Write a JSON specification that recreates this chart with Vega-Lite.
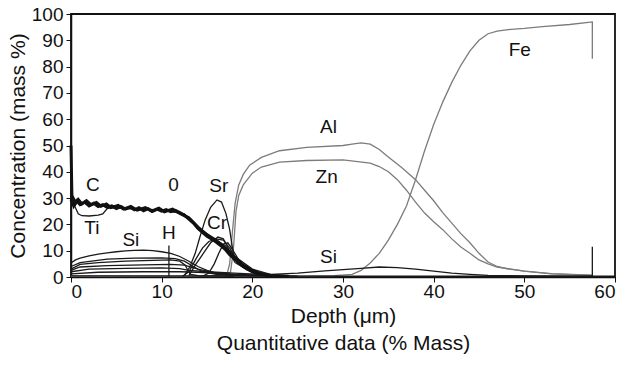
{
  "$schema": "https://vega.github.io/schema/vega-lite/v6.json",
  "width": 544,
  "height": 263,
  "autosize": {"type": "none"},
  "padding": {"left": 71, "top": 14, "right": 6, "bottom": 89},
  "background": "white",
  "config": {
    "font": "Liberation Sans",
    "view": {"stroke": "#111", "strokeWidth": 1.8},
    "axis": {"grid": false, "domainColor": "#111", "tickColor": "#111", "labelColor": "#111", "titleColor": "#111", "labelFontSize": 19, "titleFontSize": 21, "titleFontWeight": "normal", "tickSize": 5, "domainWidth": 1.5}
  },
  "datasets": {
    "lines": [
      {"s": "O", "x": 0, "y": 29.5}, {"s": "O", "x": 0.3, "y": 27}, {"s": "O", "x": 0.6, "y": 29}, {"s": "O", "x": 1, "y": 27.5}, {"s": "O", "x": 1.5, "y": 28.5}, {"s": "O", "x": 2, "y": 27}, {"s": "O", "x": 2.5, "y": 28}, {"s": "O", "x": 3, "y": 26.8}, {"s": "O", "x": 3.5, "y": 27.5}, {"s": "O", "x": 4, "y": 26.5}, {"s": "O", "x": 4.5, "y": 27}, {"s": "O", "x": 5, "y": 26}, {"s": "O", "x": 5.5, "y": 26.8}, {"s": "O", "x": 6, "y": 25.8}, {"s": "O", "x": 6.5, "y": 26.5}, {"s": "O", "x": 7, "y": 25.5}, {"s": "O", "x": 7.5, "y": 26.3}, {"s": "O", "x": 8, "y": 25.2}, {"s": "O", "x": 8.5, "y": 26}, {"s": "O", "x": 9, "y": 25}, {"s": "O", "x": 9.5, "y": 25.8}, {"s": "O", "x": 10, "y": 25}, {"s": "O", "x": 10.5, "y": 25.6}, {"s": "O", "x": 11, "y": 24.8}, {"s": "O", "x": 11.5, "y": 25.3}, {"s": "O", "x": 12, "y": 24.5}, {"s": "O", "x": 12.5, "y": 23.5}, {"s": "O", "x": 13, "y": 22}, {"s": "O", "x": 13.5, "y": 20.5}, {"s": "O", "x": 14, "y": 18.5}, {"s": "O", "x": 14.5, "y": 17}, {"s": "O", "x": 15, "y": 15.5}, {"s": "O", "x": 15.5, "y": 14.5}, {"s": "O", "x": 16, "y": 13.3}, {"s": "O", "x": 16.5, "y": 12}, {"s": "O", "x": 17, "y": 10.5}, {"s": "O", "x": 17.5, "y": 8.5}, {"s": "O", "x": 18, "y": 7}, {"s": "O", "x": 18.5, "y": 5.5}, {"s": "O", "x": 19, "y": 4}, {"s": "O", "x": 19.5, "y": 3}, {"s": "O", "x": 20, "y": 2}, {"s": "O", "x": 21, "y": 1}, {"s": "O", "x": 22, "y": 0.5}, {"s": "O", "x": 24, "y": 0.3},
      {"s": "C", "x": 0, "y": 50}, {"s": "C", "x": 0.1, "y": 31}, {"s": "C", "x": 0.5, "y": 28}, {"s": "C", "x": 0.8, "y": 29.5}, {"s": "C", "x": 1.2, "y": 27.8}, {"s": "C", "x": 1.7, "y": 29}, {"s": "C", "x": 2.2, "y": 27.5}, {"s": "C", "x": 2.8, "y": 28.3}, {"s": "C", "x": 3.3, "y": 26.9}, {"s": "C", "x": 3.9, "y": 27.8}, {"s": "C", "x": 4.4, "y": 26.4}, {"s": "C", "x": 5.2, "y": 27.2}, {"s": "C", "x": 5.8, "y": 25.8}, {"s": "C", "x": 6.6, "y": 26.8}, {"s": "C", "x": 7.3, "y": 25.4}, {"s": "C", "x": 8.2, "y": 26.4}, {"s": "C", "x": 8.9, "y": 25}, {"s": "C", "x": 9.7, "y": 26.2}, {"s": "C", "x": 10.3, "y": 24.8}, {"s": "C", "x": 11.2, "y": 25.8}, {"s": "C", "x": 12, "y": 24.2}, {"s": "C", "x": 13, "y": 22.5}, {"s": "C", "x": 14, "y": 19}, {"s": "C", "x": 15, "y": 16}, {"s": "C", "x": 16, "y": 14}, {"s": "C", "x": 17, "y": 11}, {"s": "C", "x": 18, "y": 7.5}, {"s": "C", "x": 19, "y": 4.5}, {"s": "C", "x": 20, "y": 2.5}, {"s": "C", "x": 21, "y": 1.2}, {"s": "C", "x": 22, "y": 0.5},
      {"s": "Ti", "x": 0, "y": 29}, {"s": "Ti", "x": 0.4, "y": 27}, {"s": "Ti", "x": 0.8, "y": 24}, {"s": "Ti", "x": 1.2, "y": 23.3}, {"s": "Ti", "x": 2, "y": 23.2}, {"s": "Ti", "x": 3, "y": 23.5}, {"s": "Ti", "x": 3.5, "y": 24}, {"s": "Ti", "x": 4, "y": 26}, {"s": "Ti", "x": 4.5, "y": 26.5}, {"s": "Ti", "x": 6, "y": 26}, {"s": "Ti", "x": 10, "y": 25.5}, {"s": "Ti", "x": 12.5, "y": 24}, {"s": "Ti", "x": 14, "y": 19}, {"s": "Ti", "x": 16, "y": 14}, {"s": "Ti", "x": 17, "y": 12}, {"s": "Ti", "x": 18, "y": 8}, {"s": "Ti", "x": 20, "y": 3}, {"s": "Ti", "x": 22, "y": 1}, {"s": "Ti", "x": 24, "y": 0.4},
      {"s": "SiL", "x": 0, "y": 5.3}, {"s": "SiL", "x": 0.5, "y": 6.5}, {"s": "SiL", "x": 1, "y": 7.2}, {"s": "SiL", "x": 2, "y": 8}, {"s": "SiL", "x": 3, "y": 8.7}, {"s": "SiL", "x": 4, "y": 9.2}, {"s": "SiL", "x": 5, "y": 9.6}, {"s": "SiL", "x": 6, "y": 9.9}, {"s": "SiL", "x": 7, "y": 10.1}, {"s": "SiL", "x": 8, "y": 10.2}, {"s": "SiL", "x": 9, "y": 10}, {"s": "SiL", "x": 10, "y": 9.6}, {"s": "SiL", "x": 11, "y": 9}, {"s": "SiL", "x": 12, "y": 7.8}, {"s": "SiL", "x": 13, "y": 6}, {"s": "SiL", "x": 14, "y": 4}, {"s": "SiL", "x": 15, "y": 2.5}, {"s": "SiL", "x": 16, "y": 1.5}, {"s": "SiL", "x": 18, "y": 0.8}, {"s": "SiL", "x": 20, "y": 0.5}, {"s": "SiL", "x": 22, "y": 0.3},
      {"s": "H", "x": 0, "y": 3}, {"s": "H", "x": 1, "y": 4.8}, {"s": "H", "x": 3, "y": 5.5}, {"s": "H", "x": 6, "y": 6}, {"s": "H", "x": 9, "y": 6.3}, {"s": "H", "x": 11, "y": 6.5}, {"s": "H", "x": 12, "y": 6}, {"s": "H", "x": 12.6, "y": 4.5}, {"s": "H", "x": 12.9, "y": 2.5}, {"s": "H", "x": 13.2, "y": 1}, {"s": "H", "x": 14, "y": 0.5}, {"s": "H", "x": 18, "y": 0.3},
      {"s": "Hs", "x": 10.8, "y": 12}, {"s": "Hs", "x": 10.8, "y": 0.2},
      {"s": "B2", "x": 0, "y": 2.5}, {"s": "B2", "x": 1, "y": 3.8}, {"s": "B2", "x": 4, "y": 4.3}, {"s": "B2", "x": 8, "y": 4.6}, {"s": "B2", "x": 11, "y": 4.8}, {"s": "B2", "x": 12.5, "y": 4.5}, {"s": "B2", "x": 14, "y": 3}, {"s": "B2", "x": 16, "y": 1.5}, {"s": "B2", "x": 20, "y": 0.5},
      {"s": "B3", "x": 0, "y": 2}, {"s": "B3", "x": 2, "y": 3}, {"s": "B3", "x": 6, "y": 3.3}, {"s": "B3", "x": 10, "y": 3.5}, {"s": "B3", "x": 12, "y": 3.2}, {"s": "B3", "x": 13, "y": 2.5}, {"s": "B3", "x": 15, "y": 2}, {"s": "B3", "x": 18, "y": 1.5}, {"s": "B3", "x": 22, "y": 0.8}, {"s": "B3", "x": 25, "y": 0.3},
      {"s": "B4", "x": 0, "y": 1.2}, {"s": "B4", "x": 3, "y": 1.8}, {"s": "B4", "x": 8, "y": 2}, {"s": "B4", "x": 12, "y": 2}, {"s": "B4", "x": 14, "y": 1.8}, {"s": "B4", "x": 18, "y": 1}, {"s": "B4", "x": 22, "y": 0.5},
      {"s": "B5", "x": 0, "y": 4}, {"s": "B5", "x": 1, "y": 5.5}, {"s": "B5", "x": 4, "y": 6.8}, {"s": "B5", "x": 7, "y": 7.2}, {"s": "B5", "x": 10, "y": 7.3}, {"s": "B5", "x": 11.5, "y": 7}, {"s": "B5", "x": 12.5, "y": 6}, {"s": "B5", "x": 13.5, "y": 4}, {"s": "B5", "x": 14.5, "y": 2}, {"s": "B5", "x": 16, "y": 1}, {"s": "B5", "x": 19, "y": 0.5},
      {"s": "Sr", "x": 12.5, "y": 0.5}, {"s": "Sr", "x": 13.1, "y": 3.8}, {"s": "Sr", "x": 13.7, "y": 9}, {"s": "Sr", "x": 14.2, "y": 15}, {"s": "Sr", "x": 14.8, "y": 21.7}, {"s": "Sr", "x": 15.4, "y": 26.5}, {"s": "Sr", "x": 16.1, "y": 29.3}, {"s": "Sr", "x": 16.6, "y": 28.5}, {"s": "Sr", "x": 17.1, "y": 24}, {"s": "Sr", "x": 17.5, "y": 18}, {"s": "Sr", "x": 17.9, "y": 9}, {"s": "Sr", "x": 18.4, "y": 5}, {"s": "Sr", "x": 19.4, "y": 2.7}, {"s": "Sr", "x": 20.5, "y": 1.3}, {"s": "Sr", "x": 22, "y": 0.7}, {"s": "Sr", "x": 24, "y": 0.3},
      {"s": "Cr", "x": 13, "y": 0.5}, {"s": "Cr", "x": 13.7, "y": 4.5}, {"s": "Cr", "x": 14.3, "y": 7.5}, {"s": "Cr", "x": 14.8, "y": 10}, {"s": "Cr", "x": 15.4, "y": 13}, {"s": "Cr", "x": 16.2, "y": 15.2}, {"s": "Cr", "x": 16.8, "y": 14.5}, {"s": "Cr", "x": 17.2, "y": 12}, {"s": "Cr", "x": 17.6, "y": 8.5}, {"s": "Cr", "x": 18.1, "y": 5.5}, {"s": "Cr", "x": 18.6, "y": 4.5}, {"s": "Cr", "x": 19.5, "y": 3}, {"s": "Cr", "x": 20.3, "y": 2}, {"s": "Cr", "x": 22, "y": 0.6}, {"s": "Cr", "x": 24, "y": 0.3},
      {"s": "X1", "x": 12.3, "y": 0.3}, {"s": "X1", "x": 13, "y": 2}, {"s": "X1", "x": 13.8, "y": 7}, {"s": "X1", "x": 14.5, "y": 11}, {"s": "X1", "x": 15.2, "y": 13.5}, {"s": "X1", "x": 16, "y": 14.5}, {"s": "X1", "x": 16.8, "y": 14}, {"s": "X1", "x": 17.5, "y": 11}, {"s": "X1", "x": 18.2, "y": 7}, {"s": "X1", "x": 19, "y": 4}, {"s": "X1", "x": 20.5, "y": 1.8}, {"s": "X1", "x": 22.5, "y": 0.6},
      {"s": "X2", "x": 14.5, "y": 0.3}, {"s": "X2", "x": 15.2, "y": 1.5}, {"s": "X2", "x": 15.8, "y": 5}, {"s": "X2", "x": 16.3, "y": 9}, {"s": "X2", "x": 16.8, "y": 12.5}, {"s": "X2", "x": 17.3, "y": 13}, {"s": "X2", "x": 17.8, "y": 10.5}, {"s": "X2", "x": 18.5, "y": 6.5}, {"s": "X2", "x": 19.5, "y": 3}, {"s": "X2", "x": 21, "y": 1.2}, {"s": "X2", "x": 23, "y": 0.4},
      {"s": "Base", "x": 0, "y": 0.4}, {"s": "Base", "x": 57.5, "y": 0.3}, {"s": "Base", "x": 57.5, "y": 11.5}, {"s": "Base", "x": 57.5, "y": 0.3}, {"s": "Base", "x": 60, "y": 0.3},
      {"s": "SiR", "x": 17, "y": 0.5}, {"s": "SiR", "x": 20, "y": 0.8}, {"s": "SiR", "x": 22, "y": 1}, {"s": "SiR", "x": 25, "y": 1.5}, {"s": "SiR", "x": 28, "y": 2.3}, {"s": "SiR", "x": 30, "y": 2.8}, {"s": "SiR", "x": 32, "y": 3.3}, {"s": "SiR", "x": 34, "y": 3.8}, {"s": "SiR", "x": 36, "y": 3.6}, {"s": "SiR", "x": 38, "y": 3}, {"s": "SiR", "x": 40, "y": 2.2}, {"s": "SiR", "x": 42, "y": 1.5}, {"s": "SiR", "x": 44, "y": 1}, {"s": "SiR", "x": 46, "y": 0.6}, {"s": "SiR", "x": 50, "y": 0.4}, {"s": "SiR", "x": 57.5, "y": 0.3},
      {"s": "Al", "x": 0, "y": 0.3}, {"s": "Al", "x": 16, "y": 0.3}, {"s": "Al", "x": 17.2, "y": 1}, {"s": "Al", "x": 17.5, "y": 5}, {"s": "Al", "x": 17.8, "y": 17}, {"s": "Al", "x": 18.1, "y": 28}, {"s": "Al", "x": 18.5, "y": 35}, {"s": "Al", "x": 19, "y": 39}, {"s": "Al", "x": 19.7, "y": 42.5}, {"s": "Al", "x": 21, "y": 45.5}, {"s": "Al", "x": 23, "y": 48}, {"s": "Al", "x": 26, "y": 49.3}, {"s": "Al", "x": 30, "y": 50}, {"s": "Al", "x": 31, "y": 50.5}, {"s": "Al", "x": 32, "y": 51}, {"s": "Al", "x": 33, "y": 50.5}, {"s": "Al", "x": 34, "y": 48.5}, {"s": "Al", "x": 35, "y": 45.6}, {"s": "Al", "x": 36.5, "y": 41.5}, {"s": "Al", "x": 38, "y": 37}, {"s": "Al", "x": 39, "y": 33}, {"s": "Al", "x": 40, "y": 29}, {"s": "Al", "x": 41, "y": 24.5}, {"s": "Al", "x": 42, "y": 20.5}, {"s": "Al", "x": 43, "y": 16.5}, {"s": "Al", "x": 44, "y": 13}, {"s": "Al", "x": 45, "y": 9}, {"s": "Al", "x": 46, "y": 5.7}, {"s": "Al", "x": 47, "y": 4}, {"s": "Al", "x": 48, "y": 3.2}, {"s": "Al", "x": 50, "y": 2.2}, {"s": "Al", "x": 53, "y": 1.3}, {"s": "Al", "x": 57.5, "y": 0.7},
      {"s": "Zn", "x": 0, "y": 0.2}, {"s": "Zn", "x": 17, "y": 0.3}, {"s": "Zn", "x": 17.6, "y": 2}, {"s": "Zn", "x": 17.9, "y": 10}, {"s": "Zn", "x": 18.2, "y": 25}, {"s": "Zn", "x": 18.5, "y": 31}, {"s": "Zn", "x": 19, "y": 35}, {"s": "Zn", "x": 20, "y": 39.5}, {"s": "Zn", "x": 21, "y": 41.8}, {"s": "Zn", "x": 23, "y": 43.7}, {"s": "Zn", "x": 26, "y": 44.3}, {"s": "Zn", "x": 30, "y": 44.5}, {"s": "Zn", "x": 33, "y": 43.3}, {"s": "Zn", "x": 34, "y": 42}, {"s": "Zn", "x": 35, "y": 40}, {"s": "Zn", "x": 36, "y": 37}, {"s": "Zn", "x": 37, "y": 33}, {"s": "Zn", "x": 38, "y": 28.5}, {"s": "Zn", "x": 39, "y": 24.3}, {"s": "Zn", "x": 40, "y": 21}, {"s": "Zn", "x": 41, "y": 18}, {"s": "Zn", "x": 42, "y": 14.5}, {"s": "Zn", "x": 43, "y": 11.4}, {"s": "Zn", "x": 44, "y": 9}, {"s": "Zn", "x": 45, "y": 6.5}, {"s": "Zn", "x": 46, "y": 5}, {"s": "Zn", "x": 47, "y": 3.8}, {"s": "Zn", "x": 50, "y": 2.2}, {"s": "Zn", "x": 53, "y": 1.2}, {"s": "Zn", "x": 57.5, "y": 0.6},
      {"s": "Fe", "x": 0, "y": 0.2}, {"s": "Fe", "x": 25, "y": 0.3}, {"s": "Fe", "x": 29, "y": 0.5}, {"s": "Fe", "x": 31, "y": 1}, {"s": "Fe", "x": 32, "y": 2.5}, {"s": "Fe", "x": 33, "y": 5.3}, {"s": "Fe", "x": 34, "y": 9}, {"s": "Fe", "x": 35, "y": 14}, {"s": "Fe", "x": 36, "y": 20}, {"s": "Fe", "x": 37, "y": 27}, {"s": "Fe", "x": 38, "y": 37}, {"s": "Fe", "x": 39, "y": 48}, {"s": "Fe", "x": 40, "y": 58}, {"s": "Fe", "x": 41, "y": 66.5}, {"s": "Fe", "x": 42, "y": 74}, {"s": "Fe", "x": 43, "y": 80.5}, {"s": "Fe", "x": 44, "y": 86}, {"s": "Fe", "x": 45, "y": 90}, {"s": "Fe", "x": 46, "y": 92.5}, {"s": "Fe", "x": 47, "y": 93.5}, {"s": "Fe", "x": 48, "y": 94}, {"s": "Fe", "x": 50, "y": 94.5}, {"s": "Fe", "x": 52, "y": 95.2}, {"s": "Fe", "x": 55, "y": 96}, {"s": "Fe", "x": 57.5, "y": 97}, {"s": "Fe", "x": 57.5, "y": 83}
    ],
    "labels": [
      {"t": "C", "x": 2.4, "y": 35},
      {"t": "0", "x": 11.3, "y": 35},
      {"t": "Sr", "x": 16.3, "y": 34.5},
      {"t": "Cr", "x": 16.1, "y": 20.5},
      {"t": "Ti", "x": 2.3, "y": 18.7},
      {"t": "Si", "x": 6.6, "y": 14},
      {"t": "H", "x": 10.8, "y": 16.7},
      {"t": "Al", "x": 28.4, "y": 57},
      {"t": "Zn", "x": 28.2, "y": 38},
      {"t": "Si", "x": 28.4, "y": 7.6},
      {"t": "Fe", "x": 49.5, "y": 86.3}
    ]
  },
  "encoding": {
    "x": {"field": "x", "type": "quantitative", "scale": {"domain": [0, 60], "nice": false}, "axis": {"values": [0, 10, 20, 30, 40, 50, 60], "title": ["Depth (μm)", "Quantitative data (% Mass)"], "titleLineHeight": 27, "labelPadding": 0, "titlePadding": 4}},
    "y": {"field": "y", "type": "quantitative", "scale": {"domain": [0, 100], "nice": false}, "axis": {"values": [0, 10, 20, 30, 40, 50, 60, 70, 80, 90, 100], "title": "Concentration (mass %)", "labelPadding": 3, "titlePadding": 3}}
  },
  "layer": [
    {
      "data": {"name": "lines"},
      "transform": [{"filter": {"field": "s", "oneOf": ["Al", "Zn", "Fe"]}}],
      "mark": {"type": "line", "color": "#7c7c7c", "strokeWidth": 1.3},
      "encoding": {"detail": {"field": "s"}, "order": {"value": null}}
    },
    {
      "data": {"name": "lines"},
      "transform": [{"filter": {"field": "s", "oneOf": ["Ti", "SiL", "H", "Hs", "B2", "B3", "B4", "B5", "Sr", "Cr", "X1", "X2", "Base", "SiR"]}}],
      "mark": {"type": "line", "color": "#1a1a1a", "strokeWidth": 1.3},
      "encoding": {"detail": {"field": "s"}, "order": {"value": null}}
    },
    {
      "data": {"name": "lines"},
      "transform": [{"filter": {"field": "s", "oneOf": ["O", "C"]}}],
      "mark": {"type": "line", "color": "#111", "strokeWidth": 3},
      "encoding": {"detail": {"field": "s"}, "order": {"value": null}}
    },
    {
      "data": {"name": "labels"},
      "mark": {"type": "text", "fontSize": 19, "color": "#111", "align": "center", "baseline": "middle"},
      "encoding": {"text": {"field": "t"}}
    }
  ]
}
